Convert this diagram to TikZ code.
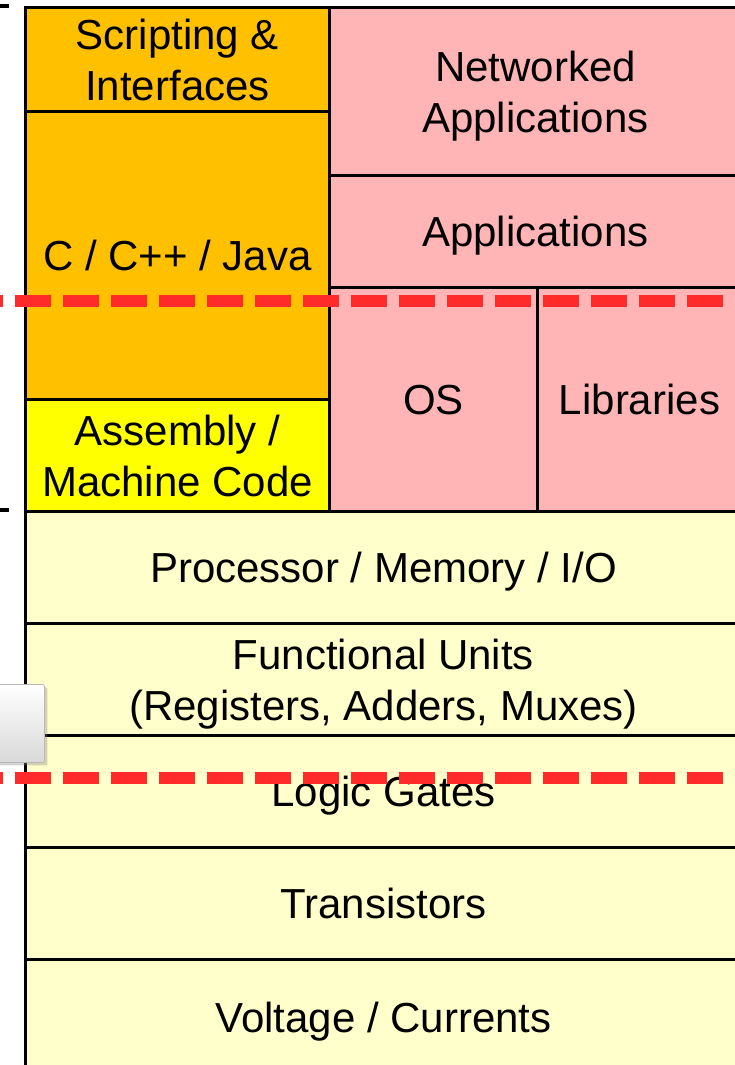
\documentclass[tikz,border=0pt]{standalone}
\usepackage{fontspec}
\setmainfont{Liberation Sans}
\usetikzlibrary{shadows}
\definecolor{langorange}{HTML}{FFC000}
\definecolor{asmyellow}{HTML}{FFFF00}
\definecolor{apppink}{HTML}{FFB5B5}
\definecolor{hwyellow}{HTML}{FFFFCC}
\definecolor{cutred}{HTML}{FF2B2B}
\tikzset{
  layer/.style={draw, line width=3pt, anchor=north west, inner sep=0pt, text depth=0pt,
    align=center, font=\fontsize{42}{51}\selectfont},
  hwlayer/.style={layer, fill=hwyellow, minimum width=716pt, minimum height=112pt},
  cutline/.style={cutred, line width=12pt, dash pattern=on 36pt off 12pt, dash phase=33pt},
  tab/.style={draw=gray!55, line width=0.8pt, top color=white, bottom color=gray!30,
    rounded corners=2pt, anchor=north west, inner sep=0pt,
    drop shadow={shadow xshift=3pt, shadow yshift=-3pt, opacity=0.35}}
}
\begin{document}
\begin{tikzpicture}[x=1pt, y=-1pt]
\useasboundingbox (0,0) rectangle (735,1065);
\clip (0,0) rectangle (735,1065);
% hardware
\node[hwlayer] (cpu) at (24,510) {Processor / Memory / I/O};
\node[hwlayer] (units) at (24,622) {Functional Units\\(Registers, Adders, Muxes)};
\node[hwlayer] (gates) at (24,734) {Logic Gates};
\node[hwlayer] (trans) at (24,846) {Transistors};
\node[hwlayer, minimum height=116pt] (volt) at (24,958) {Voltage / Currents};
% software
\node[layer, fill=langorange, minimum width=304pt, minimum height=104pt] (script) at (24,6) {Scripting \&\\Interfaces};
\node[layer, fill=langorange, minimum width=304pt, minimum height=288pt] (clang) at (24,110) {C / C++ / Java};
\node[layer, fill=asmyellow, minimum width=304pt, minimum height=112pt] (asm) at (24,398) {Assembly /\\Machine Code};
\node[layer, fill=apppink, minimum width=412pt, minimum height=168pt] (netapp) at (328,6) {Networked\\Applications};
\node[layer, fill=apppink, minimum width=412pt, minimum height=112pt] (apps) at (328,174) {Applications};
\node[layer, fill=apppink, minimum width=208pt, minimum height=224pt] (os) at (328,286) {OS};
\node[layer, fill=apppink, minimum width=204pt, minimum height=224pt] (libs) at (536,286) {Libraries};
% brace ends
\draw[line width=4pt] (0,6) -- (9,6);
\draw[line width=4pt] (0,510) -- (9,510);
\node[tab, minimum width=56pt, minimum height=78pt] (knob) at (-12,684) {};
% abstraction cuts
\coordinate (swL) at (0,301);
\coordinate (swR) at (735,301);
\coordinate (hwL) at (0,778);
\coordinate (hwR) at (735,778);
\draw[cutline] (swL) -- (swR);
\draw[cutline] (hwL) -- (hwR);
\end{tikzpicture}
\end{document}
